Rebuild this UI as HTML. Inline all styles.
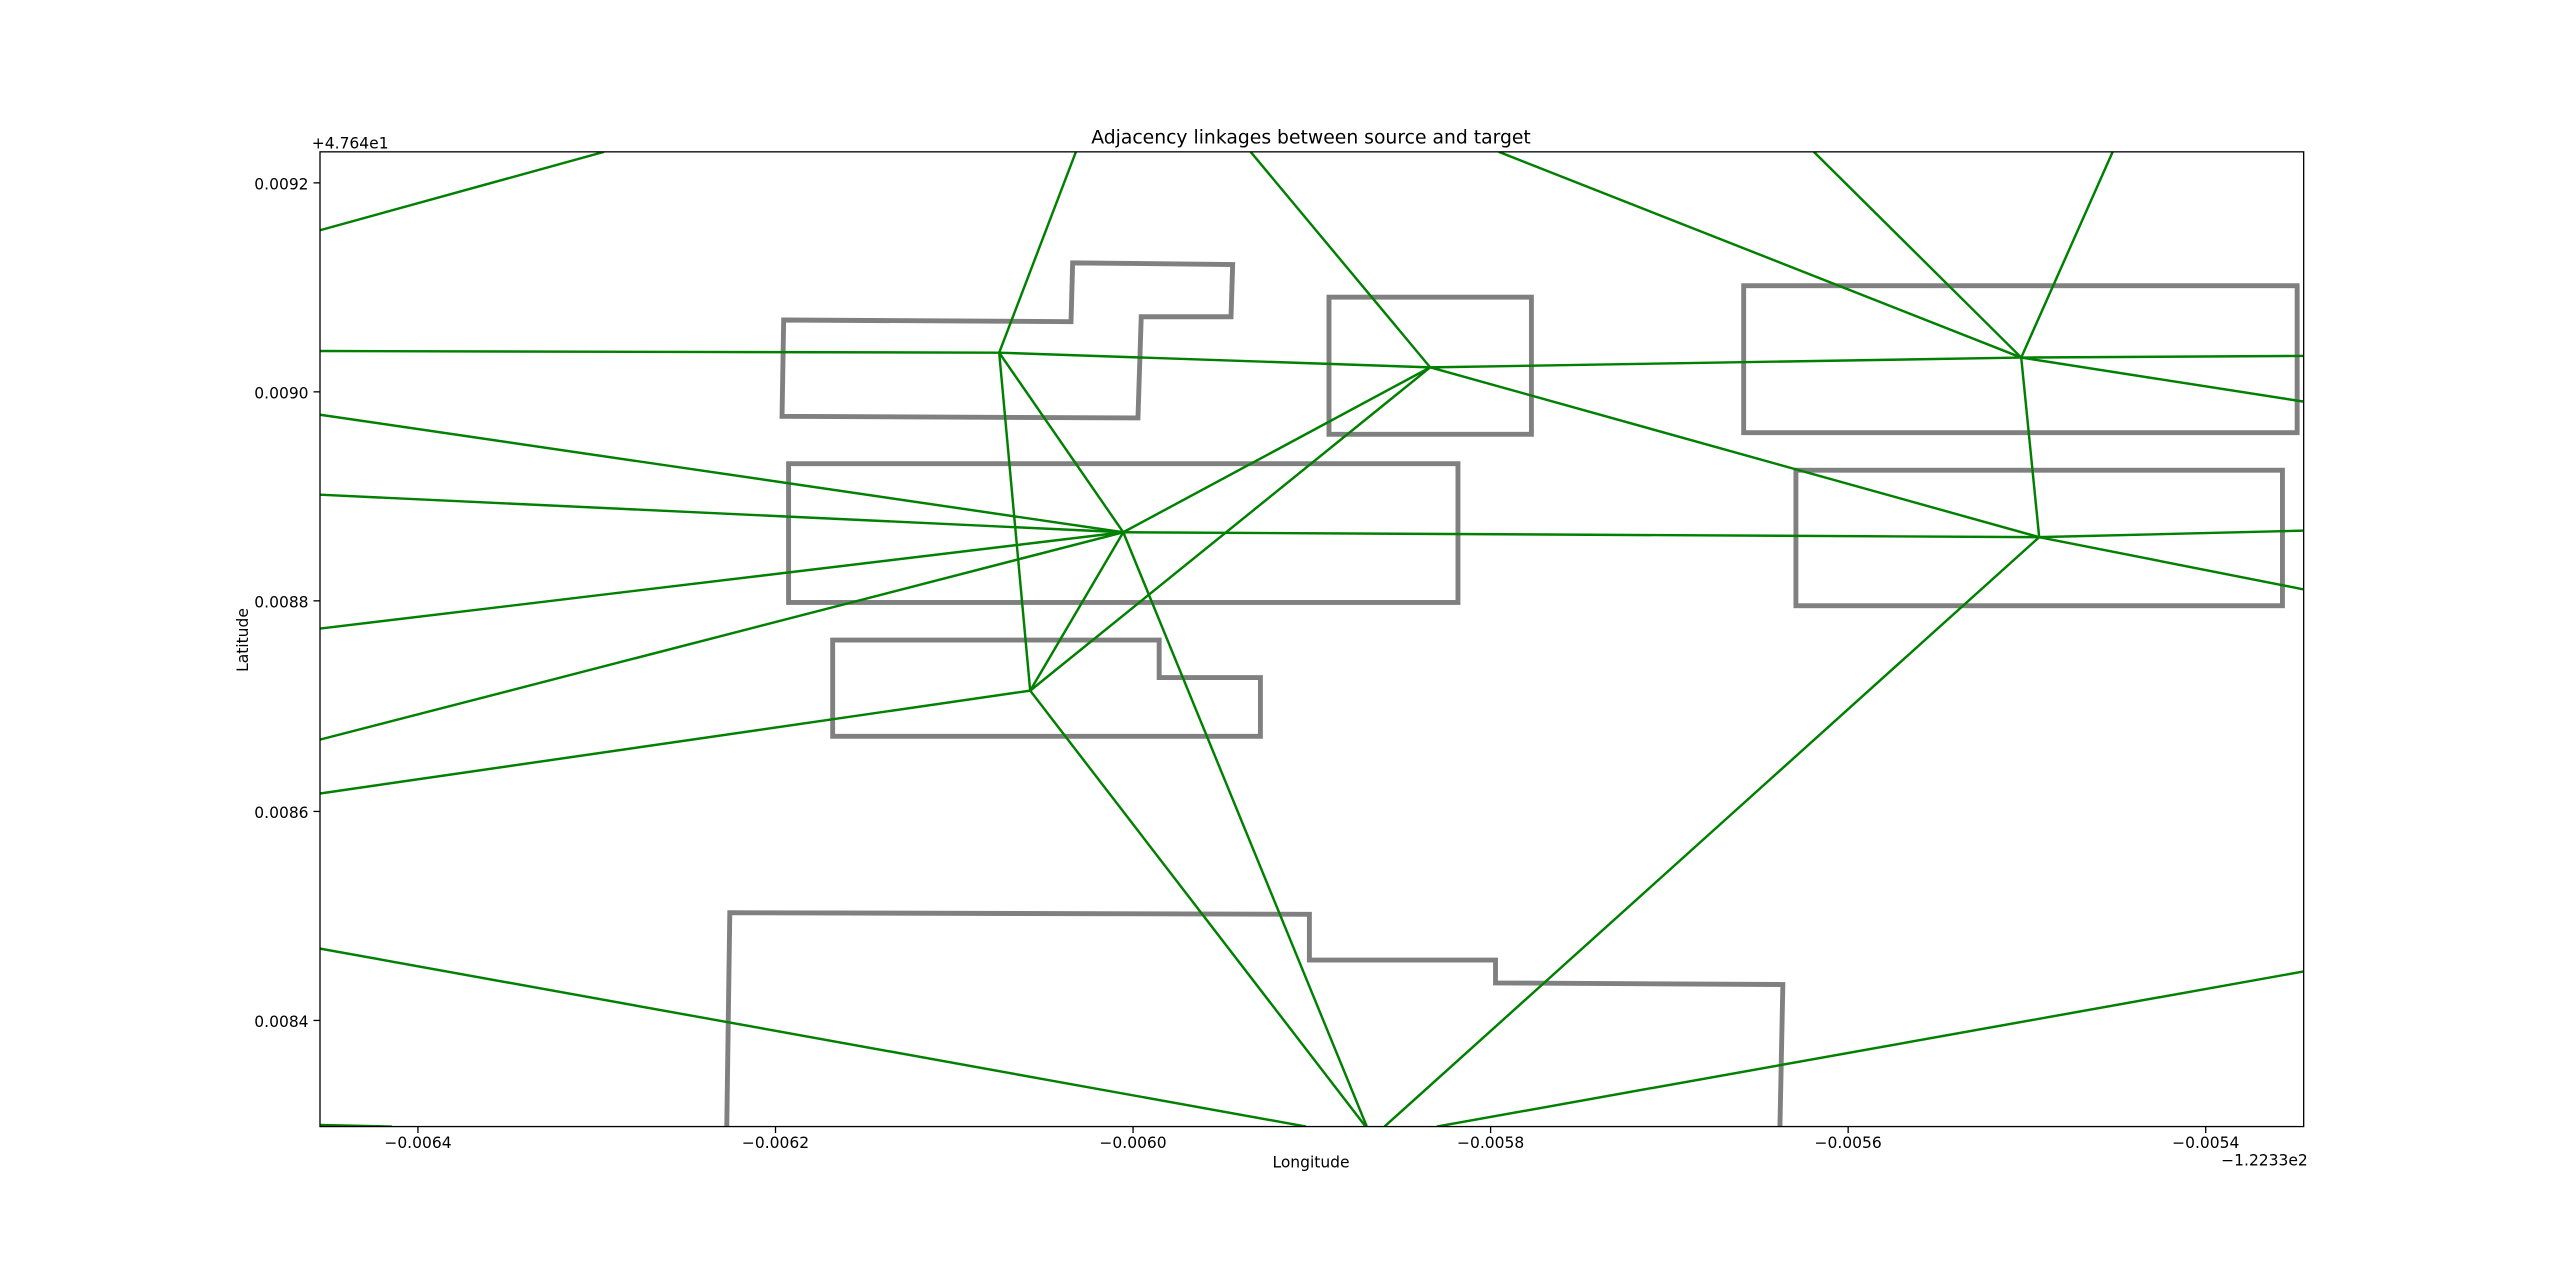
<!DOCTYPE html>
<html><head><meta charset="utf-8"><style>
html,body{margin:0;padding:0;background:#fff;}
svg{display:block;}
text{font-family:"DejaVu Sans","Liberation Sans",sans-serif;fill:#000;}
</style></head><body>
<svg width="2560" height="1266" viewBox="0 0 1568 775.4" preserveAspectRatio="none" xmlns="http://www.w3.org/2000/svg">
<defs><clipPath id="ax"><rect x="196" y="93" width="1215" height="597"/></clipPath></defs>
<rect width="1568" height="775.4" fill="#fff"/>
<g clip-path="url(#ax)" fill="none">
<g stroke="#808080" stroke-width="3" stroke-linejoin="miter">
<polygon points="480,196 656,197 657,161 755,162 754,194 699,194 697,256 479,255"/>
<rect x="814" y="182" width="124" height="84"/>
<rect x="1068" y="175" width="339" height="90"/>
<rect x="483" y="284" width="410" height="85"/>
<rect x="1100" y="288" width="298" height="83"/>
<polygon points="510,392 710,392 710,415 772,415 772,451 510,451"/>
<polyline points="445,700 447,559 802,560 802,588 916,588 916,602 1092,603 1090,700"/>
</g>
<g stroke="#008000" stroke-width="1.5">
<line x1="196" y1="141" x2="370" y2="93"/>
<line x1="196" y1="215" x2="612" y2="216"/>
<line x1="612" y1="216" x2="659" y2="93"/>
<line x1="612" y1="216" x2="876" y2="225"/>
<line x1="612" y1="216" x2="688" y2="326"/>
<line x1="612" y1="216" x2="631" y2="423"/>
<line x1="196" y1="254" x2="688" y2="326"/>
<line x1="196" y1="303" x2="688" y2="326"/>
<line x1="196" y1="385" x2="688" y2="326"/>
<line x1="196" y1="453" x2="688" y2="326"/>
<line x1="196" y1="486" x2="631" y2="423"/>
<line x1="688" y1="326" x2="876" y2="225"/>
<line x1="631" y1="423" x2="876" y2="225"/>
<line x1="688" y1="326" x2="631" y2="423"/>
<line x1="688" y1="326" x2="1249" y2="329"/>
<line x1="766" y1="93" x2="876" y2="225"/>
<line x1="876" y1="225" x2="1238" y2="219"/>
<line x1="876" y1="225" x2="1249" y2="329"/>
<line x1="918" y1="93" x2="1238" y2="219"/>
<line x1="1111" y1="93" x2="1238" y2="219"/>
<line x1="1294" y1="93" x2="1238" y2="219"/>
<line x1="1238" y1="219" x2="1411" y2="218"/>
<line x1="1238" y1="219" x2="1411" y2="246"/>
<line x1="1238" y1="219" x2="1249" y2="329"/>
<line x1="1249" y1="329" x2="1411" y2="325"/>
<line x1="1249" y1="329" x2="1411" y2="361"/>
<line x1="1249" y1="329" x2="848" y2="690"/>
<line x1="631" y1="423" x2="838" y2="692"/>
<line x1="688" y1="326" x2="838" y2="692"/>
<line x1="196" y1="581" x2="800" y2="690"/>
<line x1="1411" y1="595" x2="880" y2="690"/>
<line x1="196" y1="689" x2="240" y2="690"/>
</g>
</g>
<rect x="196" y="93" width="1215" height="597" fill="none" stroke="#000" stroke-width="0.8"/>
<g stroke="#000" stroke-width="0.8">
<line x1="256" y1="690" x2="256" y2="694"/><line x1="475" y1="690" x2="475" y2="694"/>
<line x1="694" y1="690" x2="694" y2="694"/><line x1="913" y1="690" x2="913" y2="694"/>
<line x1="1132" y1="690" x2="1132" y2="694"/><line x1="1351" y1="690" x2="1351" y2="694"/>
<line x1="192" y1="112" x2="196" y2="112"/><line x1="192" y1="240" x2="196" y2="240"/>
<line x1="192" y1="368" x2="196" y2="368"/><line x1="192" y1="497" x2="196" y2="497"/>
<line x1="192" y1="625" x2="196" y2="625"/>
</g>
<g font-size="9.5" text-anchor="middle">
<text x="256" y="703">−0.0064</text><text x="475" y="703">−0.0062</text>
<text x="694" y="703">−0.0060</text><text x="913" y="703">−0.0058</text>
<text x="1132" y="703">−0.0056</text><text x="1351" y="703">−0.0054</text>
<text x="803" y="715">Longitude</text>
<text x="1387" y="714">−1.2233e2</text>
<text x="803" y="88" font-size="11.5">Adjacency linkages between source and target</text>
<text x="152" y="392" transform="rotate(-90 152 392)">Latitude</text>
</g>
<g font-size="9.5" text-anchor="end">
<text x="189" y="116">0.0092</text><text x="189" y="244">0.0090</text>
<text x="189" y="372">0.0088</text><text x="189" y="501">0.0086</text>
<text x="189" y="629">0.0084</text>
<text x="238" y="91">+4.764e1</text>
</g>
</svg>
</body></html>
